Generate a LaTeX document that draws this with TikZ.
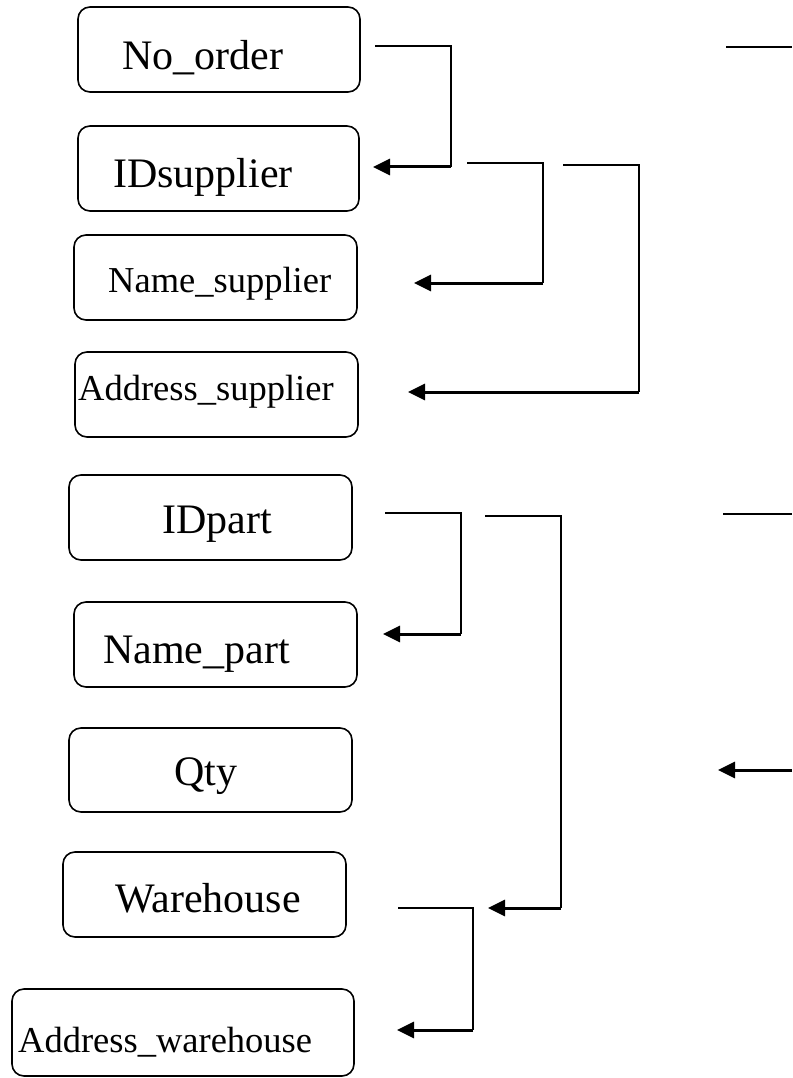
\documentclass[tikz,border=0pt]{standalone}
\usepackage{fontspec}
\setmainfont{Liberation Serif}
\usetikzlibrary{arrows.meta}
\begin{document}
\begin{tikzpicture}[x=1pt,y=-1pt,
  box/.style={draw, line width=1.6pt, rounded corners=12pt, inner sep=0pt},
  big/.style={anchor=base west, inner sep=0pt, font=\fontsize{42}{44}\selectfont},
  small/.style={anchor=base west, inner sep=0pt, font=\fontsize{36.5}{40}\selectfont},
  ln/.style={line width=2.2pt},
  arr/.style={line width=3pt, -{Triangle[length=17pt,width=16pt]}}]
\useasboundingbox (0,0) rectangle (792,1078);
% boxes
\node[box, minimum width=282pt, minimum height=85pt] (b1) at (219,49.5) {};
\node[box, minimum width=281pt, minimum height=85pt] (b2) at (218.5,168.5) {};
\node[box, minimum width=283pt, minimum height=85pt] (b3) at (215.5,277.5) {};
\node[box, minimum width=283pt, minimum height=85pt] (b4) at (216.5,394.5) {};
\node[box, minimum width=283pt, minimum height=85pt] (b5) at (210.5,517.5) {};
\node[box, minimum width=283pt, minimum height=85pt] (b6) at (215.5,644.5) {};
\node[box, minimum width=283pt, minimum height=84pt] (b7) at (210.5,770) {};
\node[box, minimum width=283pt, minimum height=85pt] (b8) at (204.5,894.5) {};
\node[box, minimum width=342pt, minimum height=87pt] (b9) at (183,1032.5) {};
% texts
\node[big] (t1) at (122,70) {No\_order};
\node[big] (t2) at (113,188) {IDsupplier};
\node[small] (t3) at (108,292) {Name\_supplier};
\node[small] (t4) at (78,400) {Address\_supplier};
\node[big] (t5) at (162,533) {IDpart};
\node[big] (t6) at (103,663) {Name\_part};
\node[big] (t7) at (174,785) {Qty};
\node[big] (t8) at (115,912) {Warehouse};
\node[small] (t9) at (18,1052) {Address\_warehouse};
% connector coordinates
\coordinate (a1) at (375,46); \coordinate (a2) at (451,46); \coordinate (a3) at (451,167); \coordinate (a4) at (373,167);
\coordinate (c1) at (467,163); \coordinate (c2) at (543,163); \coordinate (c3) at (543,283); \coordinate (c4) at (414,283);
\coordinate (d1) at (563,165); \coordinate (d2) at (639,165); \coordinate (d3) at (639,392); \coordinate (d4) at (408,392);
\coordinate (e1) at (385,513); \coordinate (e2) at (461,513); \coordinate (e3) at (461,634); \coordinate (e4) at (383,634);
\coordinate (f1) at (485,516); \coordinate (f2) at (561,516); \coordinate (f3) at (561,908); \coordinate (f4) at (488,908);
\coordinate (g1) at (398,908); \coordinate (g2) at (473,908); \coordinate (g3) at (473,1030); \coordinate (g4) at (397,1030);
\coordinate (h1) at (726,47); \coordinate (h2) at (792,47);
\coordinate (i1) at (723,514); \coordinate (i2) at (792,514);
\coordinate (j1) at (792,770); \coordinate (j2) at (718,770);
% connectors
\draw[ln] (a1) -- (a2) -- (a3); \draw[arr] (a3) -- (a4);
\draw[ln] (c1) -- (c2) -- (c3); \draw[arr] (c3) -- (c4);
\draw[ln] (d1) -- (d2) -- (d3); \draw[arr] (d3) -- (d4);
\draw[ln] (e1) -- (e2) -- (e3); \draw[arr] (e3) -- (e4);
\draw[ln] (f1) -- (f2) -- (f3); \draw[arr] (f3) -- (f4);
\draw[ln] (g1) -- (g2) -- (g3); \draw[arr] (g3) -- (g4);
\draw[ln] (h1) -- (h2);
\draw[ln] (i1) -- (i2);
\draw[arr] (j1) -- (j2);
\end{tikzpicture}
\end{document}
